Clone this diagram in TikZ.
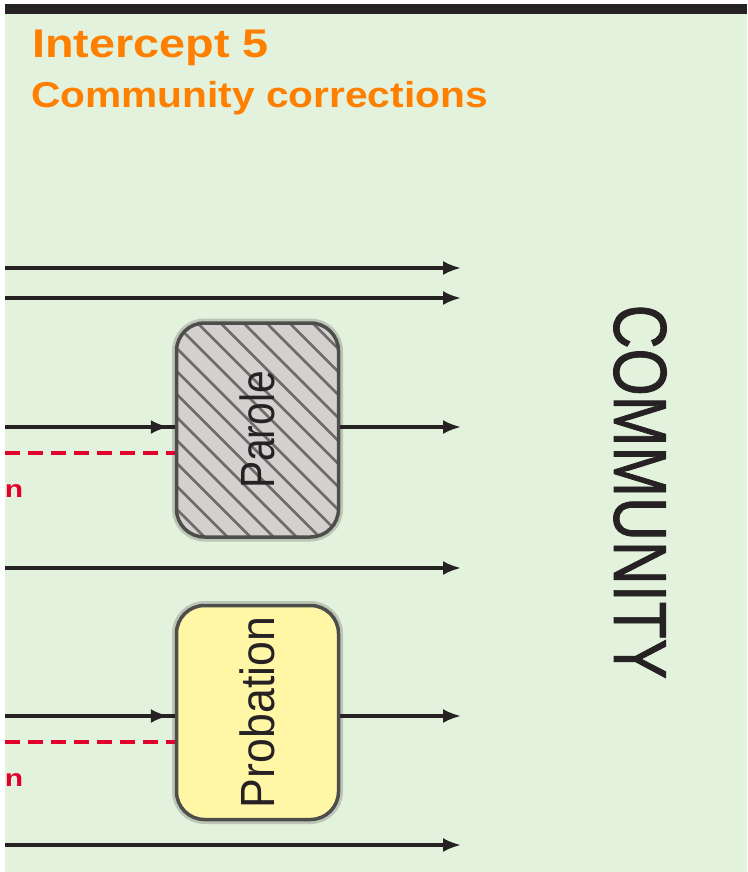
\documentclass[tikz,border=0pt]{standalone}
\usepackage{fontspec}
\setmainfont{Liberation Sans}
\usetikzlibrary{arrows.meta,calc}
\definecolor{bggreen}{HTML}{E2F2DC}
\definecolor{ink}{HTML}{262223}
\definecolor{orng}{HTML}{FF7F00}
\definecolor{crim}{HTML}{E2002C}
\definecolor{boxline}{HTML}{4D4D4B}
\definecolor{shade}{HTML}{BDC6B6}
\definecolor{hatchbg}{HTML}{D3D0CF}
\definecolor{hatchln}{HTML}{6E6D6C}
\definecolor{yel}{HTML}{FFF6A6}
\begin{document}
\begin{tikzpicture}[x=1pt,y=-1pt,
  flow/.style={draw=ink, line width=3.2pt},
  arr/.style={flow, -{Latex[length=18pt,width=14pt]}},
  dashred/.style={draw=crim, line width=3.5pt, dash pattern=on 15pt off 8pt},
  box/.style={draw=boxline, line width=3.5pt, rounded corners=28pt,
    minimum width=162pt, minimum height=214pt, inner sep=0pt,
    text=ink, font=\fontsize{48}{48}\selectfont,
    preaction={draw=shade, line width=9pt}},
  hatched/.style={fill=hatchbg, path picture={
    \foreach \i in {-10,...,8}
      \draw[hatchln, line width=2.8pt]
        ($(path picture bounding box.north west)+(21+23*\i,0)$) -- ++(260,260);}},
  title/.style={anchor=base west, text=orng, inner sep=0pt},
  redmark/.style={text=crim, font=\bfseries\fontsize{24}{24}\selectfont, anchor=base, inner sep=0pt}
]
\useasboundingbox (0,0) rectangle (747,872);
\fill[white] (0,0) rectangle (747,872);
\fill[bggreen] (5,14) rectangle (747,872);
\fill[ink] (5,4) rectangle (747,14);

% titles
\node[title, font=\bfseries\fontsize{40}{40}\selectfont] (t1) at (32,58) {\scalebox{1.17}[1]{Intercept 5}};
\node[title, font=\bfseries\fontsize{36}{36}\selectfont] (t2) at (31,108) {\scalebox{1.13}[1]{Community corrections}};

% boxes
\node[box, hatched] (parole) at (257.5,430) {\rotatebox{90}{\scalebox{0.85}[1]{Parole}}};
\node[box, fill=yel] (prob) at (257.5,712.5) {\rotatebox{90}{\scalebox{0.93}[1]{Probation}}};

% community label
\node[text=ink, font=\fontsize{75}{75}\selectfont\addfontfeature{FakeBold=1.2}, inner sep=0pt] (comm) at (640,492)
  {\rotatebox{-90}{\scalebox{0.81}[1]{COMMUNITY}}};

% coordinates
\coordinate (s1) at (5,268);   \coordinate (e1) at (461,268);
\coordinate (s2) at (5,298);   \coordinate (e2) at (461,298);
\coordinate (s3) at (5,427);   \coordinate (e3) at (461,427);
\coordinate (d1) at (5,453);
\coordinate (s4) at (5,568);   \coordinate (e4) at (461,568);
\coordinate (s5) at (5,716);   \coordinate (e5) at (461,716);
\coordinate (d2) at (5,742);
\coordinate (s6) at (5,845);   \coordinate (e6) at (461,845);

% straight-through arrows
\draw[arr] (s1) -- (e1);
\draw[arr] (s2) -- (e2);
\draw[arr] (s4) -- (e4);
\draw[arr] (s6) -- (e6);

% parole
\draw[flow] (s3) -- (s3 -| parole.west);
\draw[arr, shorten >=6pt] (s3) -- (s3 -| parole.west);
\draw[arr] (s3 -| parole.east) -- (e3);
\draw[dashred] (d1) -- (d1 -| parole.west);
\node[redmark] (n1) at (14,497) {\scalebox{1.25}[1]{n}};

% probation
\draw[flow] (s5) -- (s5 -| prob.west);
\draw[arr, shorten >=6pt] (s5) -- (s5 -| prob.west);
\draw[arr] (s5 -| prob.east) -- (e5);
\draw[dashred] (d2) -- (d2 -| prob.west);
\node[redmark] (n2) at (14,786) {\scalebox{1.25}[1]{n}};
\end{tikzpicture}
\end{document}
